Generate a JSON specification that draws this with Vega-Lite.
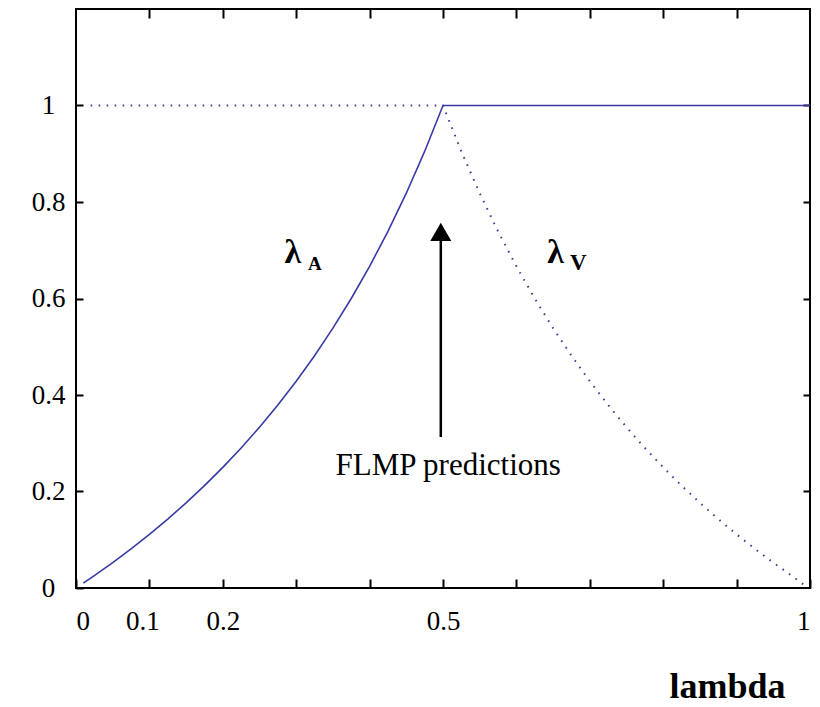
{
  "$schema": "https://vega.github.io/schema/vega-lite/v6.json",
  "width": 734,
  "height": 579,
  "autosize": {"type": "none"},
  "padding": {"left": 76, "top": 9, "right": 10, "bottom": 119},
  "background": "white",
  "config": {
    "view": {"stroke": "black", "strokeWidth": 2},
    "axis": {"grid": false, "domain": false, "tickColor": "black", "tickWidth": 2, "labelFont": "Liberation Serif", "labelFontSize": 27, "labelColor": "black", "titleFont": "Liberation Serif", "titleColor": "black"},
    "text": {"font": "Liberation Serif", "color": "black"}
  },
  "datasets": {
    "curves": [
      {"lambda": 0.01, "value": 0.0101, "series": "A"},
      {"lambda": 0.025, "value": 0.0256, "series": "A"},
      {"lambda": 0.05, "value": 0.0526, "series": "A"},
      {"lambda": 0.075, "value": 0.0811, "series": "A"},
      {"lambda": 0.1, "value": 0.1111, "series": "A"},
      {"lambda": 0.125, "value": 0.1429, "series": "A"},
      {"lambda": 0.15, "value": 0.1765, "series": "A"},
      {"lambda": 0.175, "value": 0.2121, "series": "A"},
      {"lambda": 0.2, "value": 0.25, "series": "A"},
      {"lambda": 0.225, "value": 0.2903, "series": "A"},
      {"lambda": 0.25, "value": 0.3333, "series": "A"},
      {"lambda": 0.275, "value": 0.3793, "series": "A"},
      {"lambda": 0.3, "value": 0.4286, "series": "A"},
      {"lambda": 0.325, "value": 0.4815, "series": "A"},
      {"lambda": 0.35, "value": 0.5385, "series": "A"},
      {"lambda": 0.375, "value": 0.6, "series": "A"},
      {"lambda": 0.4, "value": 0.6667, "series": "A"},
      {"lambda": 0.425, "value": 0.7391, "series": "A"},
      {"lambda": 0.45, "value": 0.8182, "series": "A"},
      {"lambda": 0.475, "value": 0.9048, "series": "A"},
      {"lambda": 0.5, "value": 1, "series": "A"},
      {"lambda": 1, "value": 1, "series": "A"},
      {"lambda": 0.02, "value": 1, "series": "V"},
      {"lambda": 0.5, "value": 1, "series": "V"},
      {"lambda": 0.525, "value": 0.9048, "series": "V"},
      {"lambda": 0.55, "value": 0.8182, "series": "V"},
      {"lambda": 0.575, "value": 0.7391, "series": "V"},
      {"lambda": 0.6, "value": 0.6667, "series": "V"},
      {"lambda": 0.625, "value": 0.6, "series": "V"},
      {"lambda": 0.65, "value": 0.5385, "series": "V"},
      {"lambda": 0.675, "value": 0.4815, "series": "V"},
      {"lambda": 0.7, "value": 0.4286, "series": "V"},
      {"lambda": 0.725, "value": 0.3793, "series": "V"},
      {"lambda": 0.75, "value": 0.3333, "series": "V"},
      {"lambda": 0.775, "value": 0.2903, "series": "V"},
      {"lambda": 0.8, "value": 0.25, "series": "V"},
      {"lambda": 0.825, "value": 0.2121, "series": "V"},
      {"lambda": 0.85, "value": 0.1765, "series": "V"},
      {"lambda": 0.875, "value": 0.1429, "series": "V"},
      {"lambda": 0.9, "value": 0.1111, "series": "V"},
      {"lambda": 0.925, "value": 0.0811, "series": "V"},
      {"lambda": 0.95, "value": 0.0526, "series": "V"},
      {"lambda": 0.975, "value": 0.0256, "series": "V"},
      {"lambda": 0.993, "value": 0.005, "series": "V"}
    ]
  },
  "resolve": {"axis": {"x": "independent", "y": "independent"}},
  "layer": [
    {
      "data": {"name": "curves"},
      "transform": [{"filter": "datum.series == 'A'"}],
      "mark": {"type": "line", "color": "#3a3aa6", "strokeWidth": 1.6},
      "encoding": {
        "x": {"field": "lambda", "type": "quantitative", "scale": {"domain": [0, 1], "nice": false, "zero": false},
          "axis": {"orient": "bottom", "values": [0, 0.1, 0.2, 0.3, 0.4, 0.5, 0.6, 0.7, 0.8, 0.9, 1], "tickSize": -9,
            "labelExpr": "indexof([0, 0.1, 0.2, 0.5, 1], datum.value) >= 0 ? format(datum.value, '~g') : ''",
            "labelOffset": {"condition": {"test": "datum.value == 0.1", "value": -7}, "value": 0},
            "labelPadding": 29, "labelFlush": true,
            "title": "lambda", "titleFontSize": 36, "titleFontWeight": "bold", "titleX": 651, "titleY": 109, "titleAlign": "center", "titleBaseline": "alphabetic"}},
        "y": {"field": "value", "type": "quantitative", "scale": {"domain": [0, 1.2], "nice": false},
          "axis": {"orient": "left", "values": [0, 0.2, 0.4, 0.6, 0.8, 1], "tickSize": -7, "format": "~g", "labelAlign": "center", "labelBaseline": "middle", "labelPadding": 35, "title": null}}
      }
    },
    {
      "data": {"name": "curves"},
      "transform": [{"filter": "datum.series == 'V'"}],
      "mark": {"type": "line", "color": "#40408e", "strokeWidth": 2, "strokeDash": [1.6, 6.4]},
      "encoding": {
        "x": {"field": "lambda", "type": "quantitative", "scale": {"domain": [0, 1], "nice": false, "zero": false},
          "axis": {"orient": "top", "values": [0.1, 0.2, 0.3, 0.4, 0.5, 0.6, 0.7, 0.8, 0.9], "tickSize": -9, "labels": false, "title": null}},
        "y": {"field": "value", "type": "quantitative", "scale": {"domain": [0, 1.2], "nice": false},
          "axis": {"orient": "right", "values": [0.2, 0.4, 0.6, 0.8, 1], "tickSize": -7, "labels": false, "title": null}}
      }
    },
    {
      "data": {"values": [{"lambda": 0.497, "y1": 0.313, "y2": 0.72}]},
      "mark": {"type": "rule", "color": "black", "strokeWidth": 2.5},
      "encoding": {
        "x": {"field": "lambda", "type": "quantitative", "axis": null},
        "y": {"field": "y1", "type": "quantitative", "axis": null},
        "y2": {"field": "y2"}
      }
    },
    {
      "data": {"values": [{"lambda": 0.497, "value": 0.738}]},
      "mark": {"type": "point", "shape": "triangle-up", "filled": true, "color": "black", "opacity": 1, "size": 441},
      "encoding": {
        "x": {"field": "lambda", "type": "quantitative", "axis": null},
        "y": {"field": "value", "type": "quantitative", "axis": null}
      }
    },
    {
      "data": {"values": [{"lambda": 0.507, "value": 0.234, "label": "FLMP predictions"}]},
      "mark": {"type": "text", "fontSize": 31, "align": "center", "baseline": "alphabetic"},
      "encoding": {
        "x": {"field": "lambda", "type": "quantitative", "axis": null},
        "y": {"field": "value", "type": "quantitative", "axis": null},
        "text": {"field": "label"}
      }
    },
    {
      "data": {"values": [{"lambda": 0.284, "value": 0.674, "label": "λ"}, {"lambda": 0.642, "value": 0.674, "label": "λ"}]},
      "mark": {"type": "text", "fontSize": 34, "fontWeight": "bold", "align": "left", "baseline": "alphabetic"},
      "encoding": {
        "x": {"field": "lambda", "type": "quantitative", "axis": null},
        "y": {"field": "value", "type": "quantitative", "axis": null},
        "text": {"field": "label"}
      }
    },
    {
      "data": {"values": [{"lambda": 0.316, "value": 0.659, "label": "A"}]},
      "mark": {"type": "text", "fontSize": 19, "fontWeight": "bold", "align": "left", "baseline": "alphabetic"},
      "encoding": {
        "x": {"field": "lambda", "type": "quantitative", "axis": null},
        "y": {"field": "value", "type": "quantitative", "axis": null},
        "text": {"field": "label"}
      }
    },
    {
      "data": {"values": [{"lambda": 0.673, "value": 0.659, "label": "V"}]},
      "mark": {"type": "text", "fontSize": 23, "fontWeight": "bold", "align": "left", "baseline": "alphabetic"},
      "encoding": {
        "x": {"field": "lambda", "type": "quantitative", "axis": null},
        "y": {"field": "value", "type": "quantitative", "axis": null},
        "text": {"field": "label"}
      }
    }
  ]
}
